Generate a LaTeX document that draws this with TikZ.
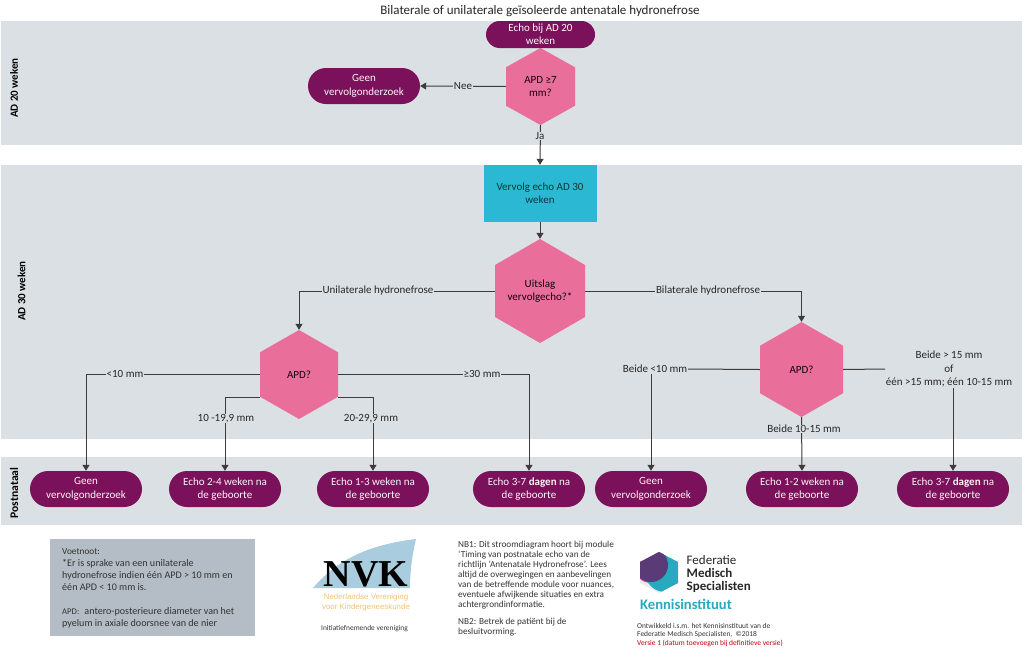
\documentclass[tikz,border=0pt]{standalone}
\usepackage{fontspec}
\setmainfont{Carlito}
\newfontfamily\serifbold{Liberation Serif}
\newfontfamily\helv{Liberation Sans}
\usetikzlibrary{arrows.meta,calc,shapes.misc}
\definecolor{bandgrey}{HTML}{DBE0E4}
\definecolor{plum}{HTML}{7B115A}
\definecolor{hexpink}{HTML}{E96F9A}
\definecolor{boxblue}{HTML}{2BB8D3}
\definecolor{linegrey}{HTML}{3C3C3C}
\definecolor{notegrey}{HTML}{B4BDC5}
\definecolor{nvkblue}{HTML}{A9CCDE}
\definecolor{nvkorange}{HTML}{F0C27C}
\definecolor{fmsteal}{HTML}{29A9BF}
\definecolor{fmspurple}{HTML}{5A3B78}
\definecolor{fmspink}{HTML}{CE4A7C}
\newcommand{\hexfill}{%
  \fill[hexpink]
    (path picture bounding box.north)
    -- ($(path picture bounding box.north east)!0.25!(path picture bounding box.south east)$)
    -- ($(path picture bounding box.north east)!0.75!(path picture bounding box.south east)$)
    -- (path picture bounding box.south)
    -- ($(path picture bounding box.north west)!0.75!(path picture bounding box.south west)$)
    -- ($(path picture bounding box.north west)!0.25!(path picture bounding box.south west)$)
    -- cycle;}
\tikzset{
  band/.style={fill=bandgrey,draw=none},
  bandtitle/.style={rotate=90,font=\fontsize{11}{12}\selectfont\bfseries,text=black,inner sep=0},
  pill/.style={rounded rectangle,fill=plum,text=white!92!hexpink,minimum width=#1,minimum height=36,
    inner sep=0,align=center,font=\fontsize{11}{13.3}\selectfont},
  hexa/.style 2 args={minimum width=#1,minimum height=#2,inner sep=0,align=center,text=black!85!plum,
    font=\fontsize{11}{13.3}\selectfont,path picture={\hexfill}},
  cyanbox/.style={fill=boxblue,minimum width=113,minimum height=57,inner sep=0,align=center,
    text=black!70!boxblue,font=\fontsize{11}{13.3}\selectfont},
  edgelabel/.style={fill=bandgrey,inner sep=0.6,align=center,text=black!85,
    font=\fontsize{11}{13.3}\selectfont},
  link/.style={draw=linegrey,line width=1},
  flow/.style={link,-{Triangle[width=7,length=6]}},
  notes/.style={inner sep=0,anchor=north west,align=left,text=black!80},
}
\begin{document}
\begin{tikzpicture}[x=1pt,y=-1pt]
\useasboundingbox (0,0) rectangle (1023,651);

% swimlane bands
\fill[band] (1,21) rectangle (1022,145);
\fill[band] (1,165) rectangle (1022,439);
\fill[band] (1,457) rectangle (1022,525);
\node[bandtitle] (lane20) at (14,88) {AD 20 weken};
\node[bandtitle] (lane30) at (21.5,291) {AD 30 weken};
\node[bandtitle,font=\fontsize{11.6}{12}\selectfont\bfseries] (lanepost) at (14,493) {Postnataal};

\node[inner sep=0,font=\fontsize{13}{15}\selectfont,text=black!85] (title) at (540,11.5)
  {Bilaterale of unilaterale geïsoleerde antenatale hydronefrose};

% flow nodes
\node[hexa={69}{77}] (apd7) at (540.5,86.5) {APD ≥7\\mm?};
\node[pill=109,minimum height=27] (start) at (540.5,34.5) {Echo bij AD 20\\weken};
\node[pill=112] (geen1) at (364,86) {Geen\\vervolgonderzoek};
\node[cyanbox] (vervolg) at (540,193.5) {Vervolg echo AD 30\\weken};
\node[hexa={90}{104}] (uitslag) at (540,291) {Uitslag\\vervolgecho?*};
\node[hexa={78}{89}] (apdl) at (299,374.5) {APD?};
\node[hexa={83}{95}] (apdr) at (801.5,369.5) {APD?};

\node[pill=112] (geen2) at (86,489) {Geen\\vervolgonderzoek};
\node[pill=112] (echo24) at (225,489) {Echo 2-4 weken na\\de geboorte};
\node[pill=112] (echo13) at (373,489) {Echo 1-3 weken na\\de geboorte};
\node[pill=112] (echo37a) at (529,489) {Echo 3-7 {\bfseries dagen} na\\de geboorte};
\node[pill=112] (geen3) at (651,489) {Geen\\vervolgonderzoek};
\node[pill=112] (echo12) at (802,489) {Echo 1-2 weken na\\de geboorte};
\node[pill=112] (echo37b) at (953,489) {Echo 3-7 {\bfseries dagen} na\\de geboorte};

% shoulders of the left APD hexagon, where the middle branches leave
\coordinate (apdlsw) at ($(apdl.west)+(0,22.5)$);
\coordinate (apdlse) at ($(apdl.east)+(0,22.5)$);

% connectors
\draw[flow] (apd7.west) -- (geen1.east);
\draw[flow] (apd7.south) -- (vervolg.north);
\draw[flow] (vervolg.south) -- (uitslag.north);
\draw[flow] (uitslag.west) -| (apdl.north);
\draw[flow] (uitslag.east) -| (apdr.north);
\draw[flow] (apdl.west) -| (geen2.north);
\draw[flow] (apdlsw) -| (echo24.north);
\draw[flow] (apdlse) -| (echo13.north);
\draw[flow] (apdl.east) -| (echo37a.north);
\draw[flow] (apdr.south) -- (echo12.north);

% edge labels
\node[edgelabel] (nee) at (463,86) {Nee};
\node[edgelabel] (ja) at (540,136) {Ja};
\node[edgelabel] (uni) at (378,291) {Unilaterale hydronefrose};
\node[edgelabel] (bi) at (708,291) {Bilaterale hydronefrose};
\node[edgelabel] (lt10) at (125,374) {<10 mm};
\node[edgelabel] (m1019) at (226,418.5) {10 -19,9 mm};
\node[edgelabel] (m2029) at (371,418.5) {20-29,9 mm};
\node[edgelabel] (ge30) at (482,374) {≥30 mm};
\node[edgelabel] (b10) at (655,369) {Beide <10 mm};
\node[edgelabel] (b1015) at (804,429) {Beide 10-15 mm};
\node[edgelabel] (b15) at (949,369) {Beide > 15 mm\\of\\één >15 mm; één 10-15 mm};

\draw[link] (apdr.west) -- (b10.east);
\draw[flow] (b10.south -| geen3.north) -- (geen3.north);
\draw[link] (apdr.east) -- (b15.west);
\draw[flow] (b15.south -| echo37b.north) -- (echo37b.north);

% footnote block
\node[fill=notegrey,minimum width=205,minimum height=97,inner sep=0] (notebox) at (152.5,587.5) {};
\node[notes,font=\fontsize{10.1}{12}\selectfont] (notetext) at (62,548)
  {{\fontsize{9.3}{12}\selectfont Voetnoot:}\\
   *Er is sprake van een unilaterale\\
   hydronefrose indien één APD > 10 mm en\\
   één APD < 10 mm is.\\[12pt]
   {\fontsize{8.7}{12}\selectfont APD:}\enspace antero-posterieure diameter van het\\
   pyelum in axiale doorsnee van de nier};

% NVK mark
\fill[nvkblue] (313,588) .. controls (340,556) and (375,544) .. (416,539)
  .. controls (412,556) and (410,572) .. (410,588) -- cycle;
\node[inner sep=0,font=\serifbold\bfseries\fontsize{38}{38}\selectfont,text=black] (nvk) at (366,574) {NVK};
\node[inner sep=0,align=center,text=nvkorange,font=\helv\fontsize{7.9}{9.6}\selectfont] (nvkname) at (366,602.5)
  {Nederlandse Vereniging\\voor Kindergeneeskunde};
\node[inner sep=0,text=black!80,font=\fontsize{7.4}{9}\selectfont] (nvkrole) at (364.5,628.5) {Initiatiefnemende vereniging};

% notes on the module
\node[notes,font=\fontsize{9.2}{10.15}\selectfont] (nb1) at (458,540.5)
  {NB1: Dit stroomdiagram hoort bij module\\
   ‘Timing van postnatale echo van de\\
   richtlijn ‘Antenatale Hydronefrose’. Lees\\
   altijd de overwegingen en aanbevelingen\\
   van de betreffende module voor nuances,\\
   eventuele afwijkende situaties en extra\\
   achtergrondinformatie.};
\node[notes,font=\fontsize{9.2}{10.6}\selectfont] (nb2) at (458,617.5)
  {NB2: Betrek de patiënt bij de\\besluitvorming.};

% Federatie Medisch Specialisten mark
\begin{scope}
  \clip (659,552) -- (678,562) -- (678,583) -- (659,593) -- (640,583) -- (640,562) -- cycle;
  \fill[black!8] (640,552) rectangle (678,593);
  \fill[fmspink] (651,566) circle[radius=17];
  \fill[fmsteal] (665,572) circle[radius=20];
  \fill[fmspurple] (651,565) circle[radius=17];
\end{scope}
\node[inner sep=0,anchor=west,align=left,text=black!85,font=\fontsize{13}{12.6}\selectfont] (fms) at (686.5,574)
  {Federatie\\{\bfseries Medisch}\\{\bfseries Specialisten}};
\node[inner sep=0,anchor=west,text=fmsteal,font=\fontsize{14.6}{17}\selectfont\bfseries] (kennis) at (640,604.5) {Kennisinstituut};
\node[notes,font=\fontsize{7.45}{8.6}\selectfont] (credit) at (637,623)
  {Ontwikkeld i.s.m. het Kennisinstituut van de\\
   Federatie Medisch Specialisten, \ ©2018\\
   \textcolor{red!75!black}{Versie 1 (datum toevoegen bij definitieve versie)}};
\end{tikzpicture}
\end{document}
